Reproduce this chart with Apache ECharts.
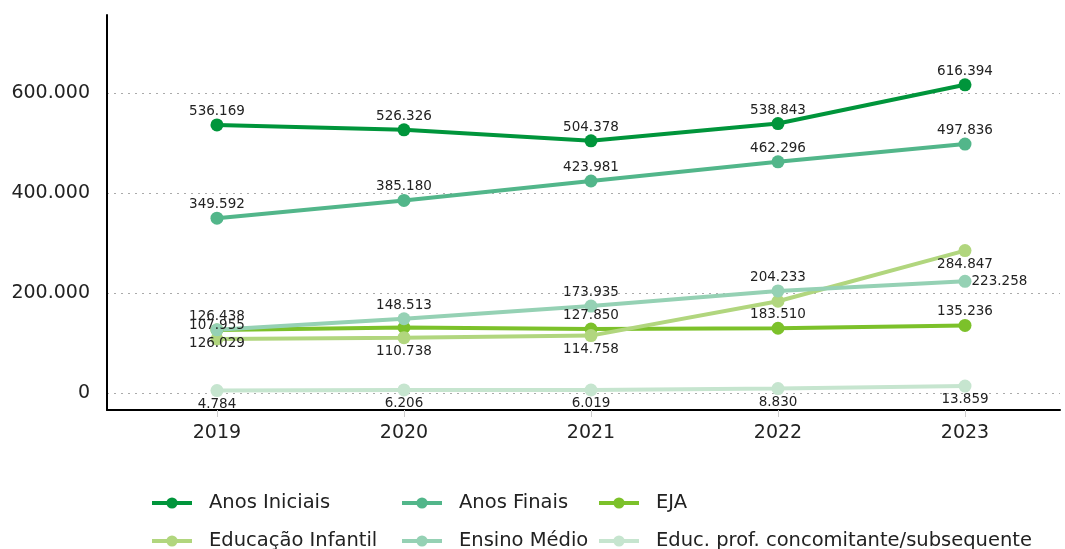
<!DOCTYPE html>
<html>
<head>
<meta charset="utf-8">
<script src="https://cdn.jsdelivr.net/npm/echarts@6/dist/echarts.min.js"></script>
<style>
  html, body { margin: 0; padding: 0; background: #fff; }
  #chart { width: 1065px; height: 549px; }
</style>
</head>
<body>
<div id="chart"></div>
<script>
const years = ['2019', '2020', '2021', '2022', '2023'];
const anosIniciais = [536169, 526326, 504378, 538843, 616394];
const anosFinais = [349592, 385180, 423981, 462296, 497836];
const eja = [126029, 131000, 127850, 129500, 135236];
const educacaoInfantil = [107955, 110738, 114758, 183510, 284847];
const ensinoMedio = [126438, 148513, 173935, 204233, 223258];
const educProf = [4784, 6206, 6019, 8830, 13859];
const yTickLabels = [0, 200000, 400000, 600000];

function fmt(v) {
  return String(v).replace(/\B(?=(\d{3})+(?!\d))/g, '.');
}

const font = 'DejaVu Sans';

function makeSeries(name, values, color, defPos, overrides, hidden) {
  return {
    name: name,
    type: 'line',
    symbol: 'circle',
    symbolSize: 13,
    lineStyle: { width: 4, color: color },
    itemStyle: { color: color },
    z: 2,
    label: {
      show: true,
      position: defPos,
      distance: 0,
      fontFamily: font,
      fontSize: 13.5,
      color: '#222',
      formatter: p => fmt(p.value[1])
    },
    data: values.map((v, i) => {
      const d = { value: [Number(years[i]), v] };
      if (overrides && overrides[i]) d.label = { position: overrides[i] };
      if (hidden && hidden.indexOf(i) >= 0) d.label = { show: false };
      return d;
    })
  };
}

const chart = echarts.init(document.getElementById('chart'), null, { renderer: 'canvas' });

const legendBase = {
  orient: 'vertical',
  top: 493,
  height: 120,
  padding: 0,
  itemWidth: 40,
  itemHeight: 14,
  itemGap: 18,
  lineStyle: { width: 4 },
  textStyle: { fontFamily: font, fontSize: 19.5, color: '#222', lineHeight: 18, padding: [0, 0, 0, 12] }
};

chart.setOption({
  animation: false,
  backgroundColor: '#fff',
  grid: { left: 107, right: 5, top: 15, bottom: 139 },
  legend: [
    Object.assign({}, legendBase, { left: 150, data: ['Anos Iniciais', 'Educação Infantil'] }),
    Object.assign({}, legendBase, { left: 400, data: ['Anos Finais', 'Ensino Médio'] }),
    Object.assign({}, legendBase, { left: 597, data: ['EJA', 'Educ. prof. concomitante/subsequente'] })
  ],
  xAxis: {
    type: 'value',
    min: 2018.412,
    max: 2023.508,
    splitNumber: 5,
    axisLine: { show: true, onZero: false, lineStyle: { color: '#000', width: 2 } },
    axisTick: { show: true, length: 7, lineStyle: { color: '#ccc', width: 1 } },
    splitLine: { show: false },
    axisLabel: {
      showMinLabel: false,
      showMaxLabel: false,
      margin: 14,
      fontFamily: font,
      fontSize: 19,
      color: '#222',
      formatter: v => (years.indexOf(String(v)) >= 0 ? String(v) : '')
    }
  },
  yAxis: {
    type: 'value',
    min: -34000,
    max: 756000,
    splitNumber: 4,
    axisLine: { show: true, lineStyle: { color: '#000', width: 2 } },
    axisTick: { show: false },
    splitLine: {
      show: true,
      showMinLine: false,
      showMaxLine: false,
      lineStyle: { color: '#aaa', width: 1, type: [2, 5] }
    },
    axisLabel: {
      showMinLabel: false,
      showMaxLabel: false,
      margin: 17,
      fontFamily: font,
      fontSize: 19,
      color: '#222',
      formatter: v => (yTickLabels.indexOf(v) >= 0 ? fmt(v) : '')
    }
  },
  series: [
    makeSeries('Anos Iniciais', anosIniciais, '#00953B', 'top'),
    makeSeries('Anos Finais', anosFinais, '#52B68A', 'top'),
    makeSeries('EJA', eja, '#7CC12A', 'top', { 0: 'bottom' }, [1, 3]),
    makeSeries('Educação Infantil', educacaoInfantil, '#B1D67E', 'bottom', { 0: 'top' }),
    makeSeries('Ensino Médio', ensinoMedio, '#95D1B4', 'top', { 4: 'right' }),
    makeSeries('Educ. prof. concomitante/subsequente', educProf, '#C6E5CF', 'bottom')
  ]
});
</script>
</body>
</html>
